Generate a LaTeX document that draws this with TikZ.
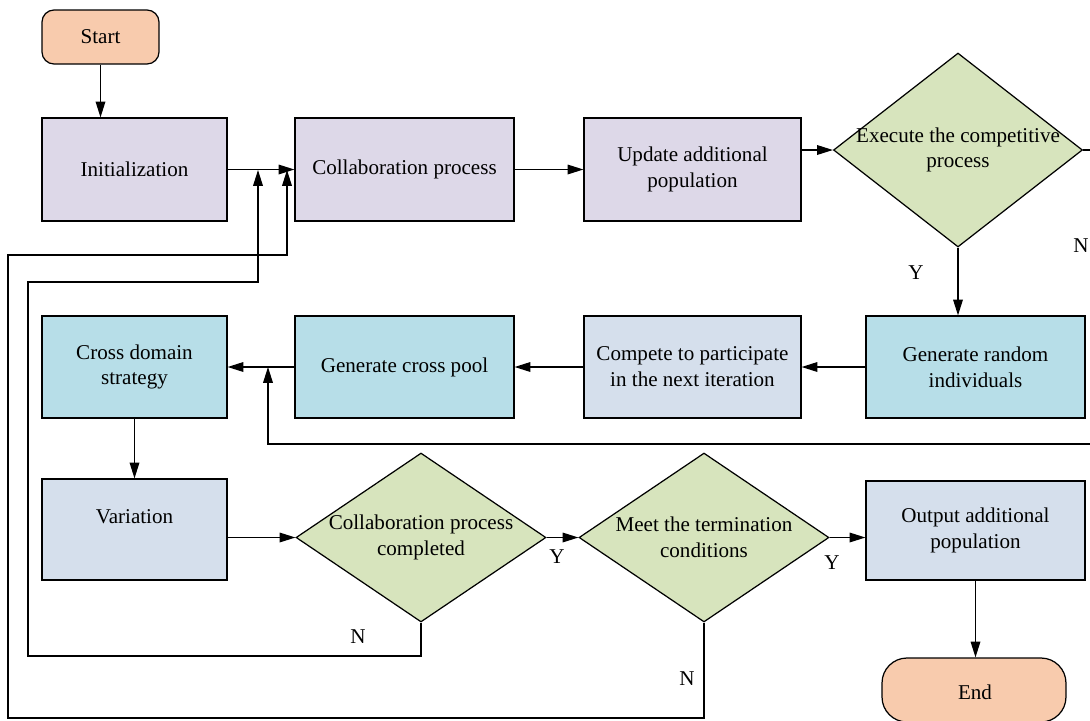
\documentclass[tikz,border=0pt]{standalone}
\usepackage{fontspec}
\setmainfont{Liberation Serif}
\usetikzlibrary{shapes.geometric,arrows.meta}

\definecolor{termfill}{HTML}{F8CBAD}
\definecolor{lavfill}{HTML}{DDD8E8}
\definecolor{bluefill}{HTML}{B7DEE8}
\definecolor{greyfill}{HTML}{D5DFEC}
\definecolor{decfill}{HTML}{D7E4BD}

\tikzset{
  every node/.style={font=\fontsize{12pt}{14.7pt}\selectfont, align=center},
  procbox/.style={draw, line width=0.7pt, inner sep=2pt, minimum height=2.06cm},
  termbox/.style={draw, line width=0.7pt, fill=termfill},
  decbox/.style={draw, line width=0.7pt, diamond, fill=decfill, inner sep=0pt},
  arr/.style={line width=0.7pt, -{Triangle[length=9pt,width=5.5pt]}},
  loop/.style={line width=0.7pt}
}

\begin{document}
\begin{tikzpicture}[x=0.02cm,y=-0.02cm]
\useasboundingbox (0,0) rectangle (1090,721);
%\draw[gray] (0,0) grid[step=50] (1090,721);

% row 1
\node[termbox, rounded corners=0.24cm, minimum width=2.34cm, minimum height=1.08cm] (start) at (100.5,37) {Start};
\node[procbox, fill=lavfill, minimum width=3.7cm] (init) at (134.5,169.5) {Initialization};
\node[procbox, fill=lavfill, minimum width=4.38cm] (collab) at (404.5,169.5) {Collaboration process};
\node[procbox, fill=lavfill, minimum width=4.34cm] (update) at (692.5,169.5) {Update additional\\population};
\node[decbox, minimum width=4.98cm, minimum height=3.88cm,
  label={[align=center]center:Execute the competitive\\process}] (exec) at (958,150) {};

% row 2
\node[procbox, fill=bluefill, minimum width=4.38cm, minimum height=2.04cm] (gri) at (975.5,367) {Generate random\\individuals};
\node[procbox, fill=greyfill, minimum width=4.34cm, minimum height=2.04cm] (compete) at (692.5,367) {Compete to participate\\in the next iteration};
\node[procbox, fill=bluefill, minimum width=4.38cm, minimum height=2.04cm] (pool) at (404.5,367) {Generate cross pool};
\node[procbox, fill=bluefill, minimum width=3.7cm, minimum height=2.04cm] (cds) at (134.5,367) {Cross domain\\strategy};

% row 3
\node[procbox, fill=greyfill, minimum width=3.7cm, minimum height=2.02cm] (var) at (134.5,529.5) {Variation\\\mbox{}};
\node[decbox, minimum width=5cm, minimum height=3.38cm,
  label={[align=center]center:Collaboration process\\completed}] (done) at (421,537.5) {};
\node[decbox, minimum width=5cm, minimum height=3.38cm,
  label={[align=center]center:Meet the termination\\conditions}] (term) at (704,537.5) {};
\node[procbox, fill=greyfill, minimum width=4.38cm, minimum height=1.98cm] (out) at (975.5,530.5) {Output additional\\population};
\node[termbox, rounded corners=0.5cm, minimum width=3.68cm, minimum height=1.28cm] (end) at (974,690) {};
\node (endtxt) at (975,692) {End};

\coordinate (m1) at (258,170);
\coordinate (m2) at (287,170);
\coordinate (m3) at (268,367);

% main flow
\draw[arr] (start.south) -- (start.south |- init.north);
\draw[arr] (init.east) -- (collab.west);
\draw[arr] (collab.east) -- (update.west);
\draw[arr] (update.east |- exec.west) -- (exec.west);
\draw[arr] (exec.south) -- (exec.south |- gri.north);
\draw[arr] (gri.west) -- (compete.east);
\draw[arr] (compete.west) -- (pool.east);
\draw[arr] (pool.west) -- (cds.east);
\draw[arr] (cds.south) -- (var.north);
\draw[arr] (var.east |- done.west) -- (done.west);
\draw[arr] (done.east) -- (term.west);
\draw[arr] (term.east) -- (out.west |- term.east);
\draw[arr] (out.south) -- (out.south |- end.north);

% feedback loops
\draw[loop] (exec.east) -- (1100,150) -- (1100,444) -| (268,400);
\draw[arr] (268,400) -- (m3);
\draw[loop] (done.south) -- (421,656) -| (28,282) -| (258,200);
\draw[arr] (258,200) -- (m1);
\draw[loop] (term.south) -- (704,718) -| (8,255) -| (287,200);
\draw[arr] (287,200) -- (m2);

% branch labels
\node (y1) at (916,273) {Y};
\node (n1) at (1081,246) {N};
\node (y2) at (557,557) {Y};
\node (y3) at (832,563) {Y};
\node (n2) at (358,637) {N};
\node (n3) at (687,679) {N};
\end{tikzpicture}
\end{document}
